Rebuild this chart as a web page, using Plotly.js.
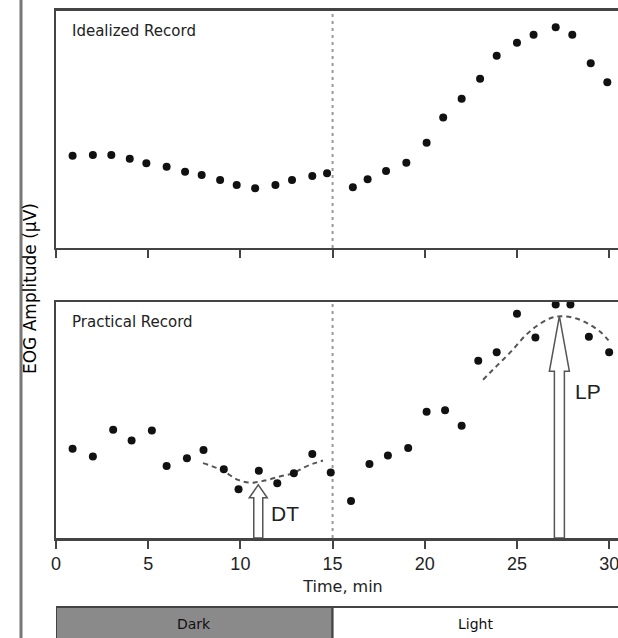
<!DOCTYPE html>
<html><head><meta charset="utf-8">
<script src="https://cdn.plot.ly/plotly-3.0.1.min.js"></script>
<style>html,body{margin:0;padding:0;overflow:hidden;background:#fff}#chart{width:630px;height:638px}</style>
</head><body><div id="chart"></div><script>
// ---- data ----
const timeIdeal = [0.9,2.0,3.0,4.0,4.9,6.0,7.0,7.9,8.9,9.8,10.8,11.9,12.8,13.9,14.7,16.1,16.9,17.9,19.0,20.1,21.0,22.0,23.0,23.9,25.0,25.9,27.1,28.0,29.0,29.9];
const ampIdeal  = [38.9,39.2,39.2,37.6,35.7,34.3,32.2,30.8,28.7,26.6,25.2,26.6,28.7,30.4,31.5,25.6,29.0,32.5,36.0,44.4,55.1,63.0,71.4,81.1,86.6,90.0,93.1,90.0,77.9,69.9];
const timePract = [0.9,2.0,3.1,4.1,5.2,6.0,7.1,8.0,9.1,9.9,11.0,12.0,12.9,13.9,14.9,16.0,17.0,18.0,19.1,20.1,21.1,22.0,22.9,23.9,25.0,26.0,27.1,27.9,28.9,30.0];
const ampPract  = [37.9,34.6,46.0,41.4,45.7,30.6,33.9,37.4,29.2,20.7,28.6,23.3,27.5,35.7,27.8,15.7,31.4,35.0,38.2,53.6,54.2,47.7,75.3,78.9,95.2,85.1,99.1,99.1,85.4,78.9];
const dtFitTime = [7.97,8.97,9.87,10.6,11.32,12.13,12.85,13.49,14.03,14.48];
const dtFitAmp  = [31.8,28.9,24.7,23.5,24.4,26.1,27.5,30.1,31.8,32.9];
const lpFitTime = [23.16,23.7,24.24,24.78,25.42,26.05,26.77,27.41,28.22,28.94,29.58,30.12];
const lpFitAmp  = [67.2,71.5,75.7,80.0,85.7,89.9,93.2,94.2,93.2,90.6,87.1,82.4];
const xTicks = [0,5,10,15,20,25,30];
const arrowLabels = ['DT','LP'];
const arrowTime = [10.97, 27.3];
const arrowAmp  = [22.6, 94.2];
const lightOnTime = 15;
const phaseLabels = ['Dark','Light'];
const phaseStart = [0, 15];
const phaseEnd   = [15, 31.2];
const panelTitles = ['Idealized Record','Practical Record'];

// ---- styling / geometry ----
const X_RANGE = [0, 31.13];
const PX_PER_X = 574 / (X_RANGE[1]-X_RANGE[0]);
const PX_PER_Y2 = 235 / 100;
const frameCol = '#444';
const dom1 = [0.6113, 0.9828];
const dom2 = [0.1567, 0.5259];
const wideFont = '"DejaVu Sans", Verdana, sans-serif';

const traces = [
  {x: timeIdeal, y: ampIdeal, xaxis:'x', yaxis:'y', mode:'markers', type:'scatter', cliponaxis:false,
   marker:{color:'#111', size:8}},
  {x: dtFitTime, y: dtFitAmp, xaxis:'x2', yaxis:'y2', mode:'lines', type:'scatter',
   line:{color:'#555', width:2, dash:'5px,4px', shape:'spline'}},
  {x: lpFitTime, y: lpFitAmp, xaxis:'x2', yaxis:'y2', mode:'lines', type:'scatter', cliponaxis:false,
   line:{color:'#555', width:2, dash:'5px,4px', shape:'spline'}},
  {x: timePract, y: ampPract, xaxis:'x2', yaxis:'y2', mode:'markers', type:'scatter', cliponaxis:false,
   marker:{color:'#111', size:8}}
];

const shapes = [];
['y domain','y2 domain'].forEach((yr,i)=>{
  shapes.push({type:'line', xref: i===0?'x':'x2', yref: yr, x0: lightOnTime, x1: lightOnTime, y0:0, y1:1,
    line:{color:'#999', width:2, dash:'3px,4px'}, layer:'below'});
});
const headLen = [13, 55], headHalf = [9, 10], shaftHalf = [4.5, 5];
arrowTime.forEach((t,i)=>{
  const sw = shaftHalf[i]/PX_PER_X, hw = headHalf[i]/PX_PER_X, hl = headLen[i]/PX_PER_Y2;
  const tip = arrowAmp[i], base = tip - hl;
  const p = `M ${t-sw},0 L ${t-sw},${base} L ${t-hw},${base} L ${t},${tip} L ${t+hw},${base} L ${t+sw},${base} L ${t+sw},0 Z`;
  shapes.push({type:'path', xref:'x2', yref:'y2', path:p, fillcolor:'#fff', line:{color:'#555', width:1.5}, layer:'above'});
});
shapes.push({type:'line', xref:'paper', yref:'paper', x0:(21-56)/574, x1:(21-56)/574, y0:-0.01, y1:1.01,
  line:{color:'#777', width:3}});
const phaseFill = ['#8a8a8a','#ffffff'];
phaseStart.forEach((s,i)=>{
  shapes.push({type:'rect', xref:'x2', yref:'paper', x0:s, x1:phaseEnd[i], y0:-0.05, y1:(638-607)/638,
    fillcolor:phaseFill[i], line:{color:frameCol, width:2}});
});

const annotations = [];
panelTitles.forEach((t,i)=>{
  annotations.push({text:t, xref:'paper', yref:'paper', x:(70-56)/574, y: i===0 ? (638-31.5)/638 : (638-322)/638,
    xanchor:'left', yanchor:'middle', showarrow:false, font:{family:wideFont, size:15, color:'#222'}});
});
const labelShift = [27, 29], labelY = [10.6, 62.1];
arrowLabels.forEach((t,i)=>{
  annotations.push({text:t, xref:'x2', yref:'y2', x:arrowTime[i], y:labelY[i], xshift:labelShift[i],
    xanchor:'center', yanchor:'middle', showarrow:false, font:{size:21, color:'#222'}});
});
phaseLabels.forEach((t,i)=>{
  const vis = Math.min(phaseEnd[i], 30.46);
  annotations.push({text:t, xref:'x2', yref:'paper', x:(phaseStart[i]+vis)/2, y:(638-624)/638,
    xanchor:'center', yanchor:'middle', showarrow:false, font:{family:wideFont, size:14, color:'#111'}});
});
annotations.push({text:'EOG Amplitude (µV)', xref:'paper', yref:'paper', x:(30-56)/574, y:(638-289)/638,
  textangle:-90, xanchor:'center', yanchor:'middle', showarrow:false, font:{family:wideFont, size:17, color:'#000'}});

const axCommon = {showline:true, mirror:true, linecolor:frameCol, linewidth:2.5, showgrid:false, zeroline:false};
const layout = {
  width:630, height:638, margin:{l:56, r:0, t:0, b:0},
  paper_bgcolor:'#fff', plot_bgcolor:'#fff', showlegend:false,
  font:{family:'"Liberation Sans", Arial, sans-serif', color:'#222'},
  xaxis: Object.assign({}, axCommon, {domain:[0,1], range:X_RANGE, anchor:'y', tickvals:xTicks, showticklabels:false,
    ticks:'outside', ticklen:8, tickwidth:2, tickcolor:frameCol}),
  yaxis: Object.assign({}, axCommon, {domain:dom1, range:[0,100], anchor:'x', showticklabels:false, ticks:''}),
  xaxis2: Object.assign({}, axCommon, {domain:[0,1], range:X_RANGE, anchor:'y2', tickvals:xTicks, ticktext:xTicks.map(String),
    showticklabels:true, ticks:'outside', ticklen:8, tickwidth:2, tickcolor:frameCol, tickfont:{size:18, color:'#222'},
    title:{text:'Time, min', font:{family:wideFont, size:16, color:'#222'}, standoff:8}}),
  yaxis2: Object.assign({}, axCommon, {domain:dom2, range:[0,100], anchor:'x2', showticklabels:false, ticks:''}),
  shapes, annotations
};
Plotly.newPlot('chart', traces, layout, {staticPlot:true, displayModeBar:false});
</script></body></html>
